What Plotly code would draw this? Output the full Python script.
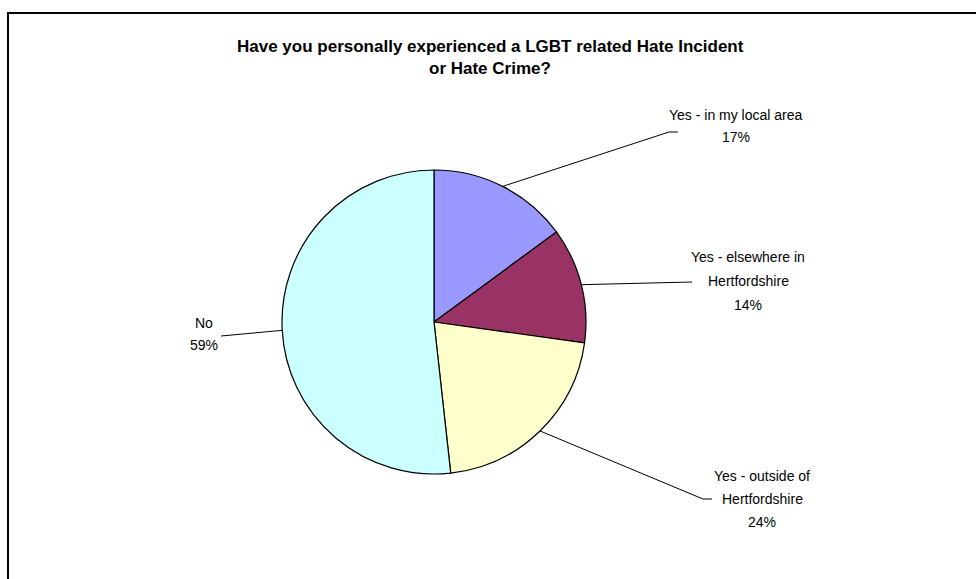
import math
import plotly.graph_objects as go

# ---- data ----
categories = ["Yes - in my local area", "Yes - elsewhere in Hertfordshire",
              "Yes - outside of Hertfordshire", "No"]
percent_values = [17, 14, 24, 59]
label_lines = [
    ["Yes - in my local area", "17%"],
    ["Yes - elsewhere in", "Hertfordshire", "14%"],
    ["Yes - outside of", "Hertfordshire", "24%"],
    ["No", "59%"],
]
colors = ["#9999FF", "#993366", "#FFFFCC", "#CCFFFF"]
title_lines = ["Have you personally experienced a LGBT related Hate Incident",
               "or Hate Crime?"]

# ---- layout constants (pixels) ----
W, H = 976, 579
CX, CY, R = 434, 322, 152
FONT = "Liberation Sans, Arial, sans-serif"


def xp(px):
    return px / W


def yp(py):
    return 1 - py / H


fig = go.Figure()
fig.add_trace(go.Pie(
    labels=categories,
    values=percent_values,
    sort=False,
    direction="clockwise",
    rotation=0,
    marker=dict(colors=colors, line=dict(color="#000000", width=1.2)),
    textinfo="none",
    hoverinfo="label+value",
    showlegend=False,
    domain=dict(x=[xp(CX - R), xp(CX + R)], y=[yp(CY + R), yp(CY - R)]),
))

# label placement: (center x, first line y, line spacing, elbow point, end point)
label_layout = [
    (736, 115, 22, (669, 132), (678, 132)),
    (748, 257, 24, None, (692, 282)),
    (762, 476, 23, (703, 499), (712, 499)),
    (204, 323, 22, None, (221, 336)),
]

annotations = []
shapes = []
total = sum(percent_values)
cum = 0
for i, v in enumerate(percent_values):
    mid = 2 * math.pi * (cum + v / 2) / total
    cum += v
    ex = CX + R * math.sin(mid)
    ey = CY - R * math.cos(mid)
    lx, ly, sp, elbow, end = label_layout[i]
    pts = [(ex, ey)] + ([elbow] if elbow else []) + [end]
    path = "M " + " L ".join(f"{xp(a)},{yp(b)}" for a, b in pts)
    shapes.append(dict(type="path", xref="paper", yref="paper", path=path,
                       line=dict(color="#000000", width=1)))
    for j, line in enumerate(label_lines[i]):
        annotations.append(dict(
            x=xp(lx), y=yp(ly + j * sp), xref="paper", yref="paper",
            text=line, showarrow=False, xanchor="center", yanchor="middle",
            font=dict(family=FONT, size=14, color="#000000")))

for j, t in enumerate(title_lines):
    annotations.append(dict(
        x=xp(490), y=yp(47 + j * 22), xref="paper", yref="paper",
        text=f"<b>{t}</b>", showarrow=False, xanchor="center", yanchor="middle",
        font=dict(family=FONT, size=17, color="#000000")))

# outer chart border (cut by the window at right and bottom)
shapes.append(dict(type="rect", xref="paper", yref="paper",
                   x0=xp(8), y0=yp(13), x1=1.1, y1=-0.1,
                   line=dict(color="#000000", width=2)))

fig.update_layout(
    width=W, height=H,
    margin=dict(l=0, r=0, t=0, b=0),
    paper_bgcolor="#FFFFFF",
    plot_bgcolor="#FFFFFF",
    annotations=annotations,
    shapes=shapes,
)

fig.write_html("out.html",
               config={"displayModeBar": False},
               post_script="document.body.style.margin='0';"
                           "document.body.style.overflow='hidden';")
